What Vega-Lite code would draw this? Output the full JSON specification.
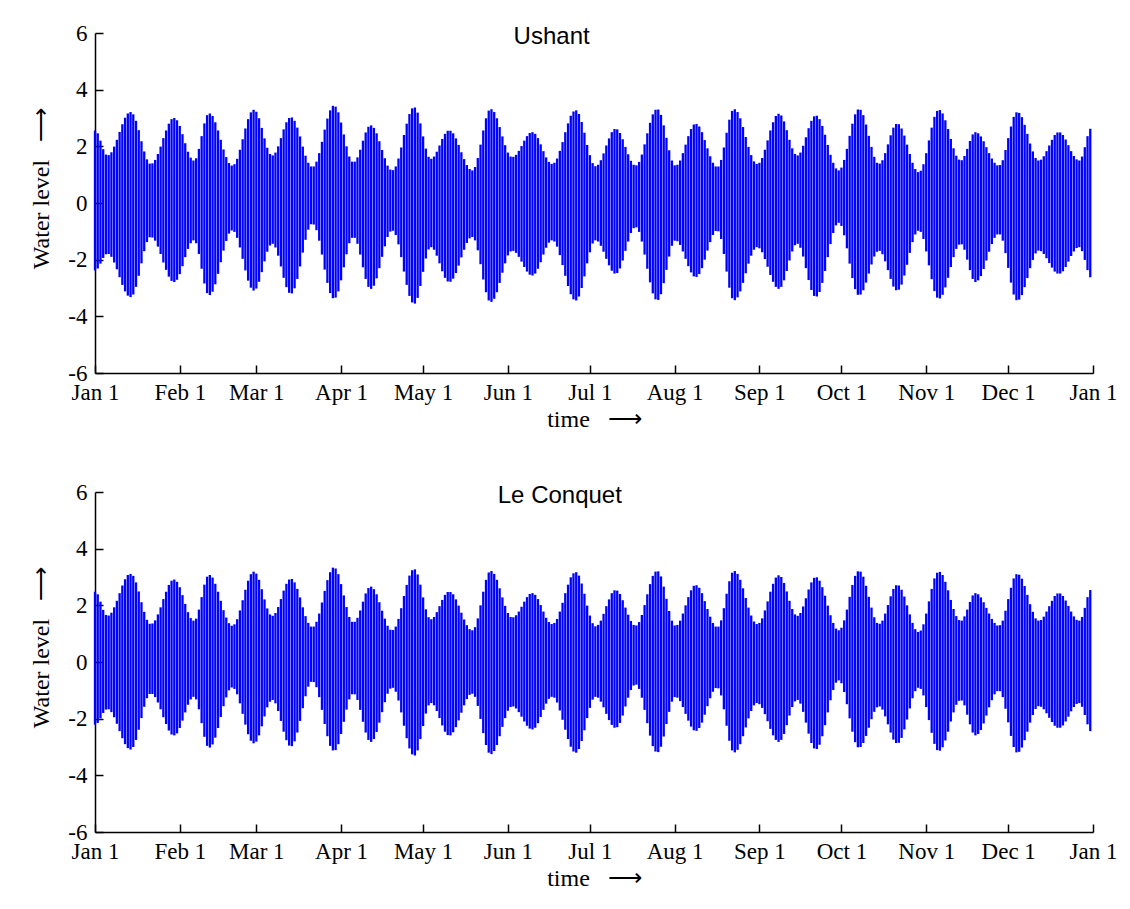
{
"$schema":"https://vega.github.io/schema/vega-lite/v6.json",
"padding":{"left":29,"top":22,"right":0,"bottom":0},
"background":"white",
"spacing":119,
"bounds":"flush",
"config":{
"view":{"stroke":null},
"axis":{"domainColor":"black","domainWidth":1.5,"tickColor":"black","tickWidth":1.5,"grid":false,"labelFont":"Liberation Serif","labelFontSize":23,"labelColor":"black","titleFont":"Liberation Serif","titleFontSize":24,"titleFontWeight":"normal","titleColor":"black","labelFlush":false,"labelOverlap":false,"labelBound":false}
},
"datasets":{"tide":[
{"d":0,"uh":2.56,"ul":-2.38,"ch":2.48,"cl":-2.21},
{"d":1,"uh":2.46,"ul":-2.31,"ch":2.39,"cl":-2.15},
{"d":2,"uh":2.20,"ul":-2.14,"ch":2.13,"cl":-1.99},
{"d":3,"uh":1.90,"ul":-1.94,"ch":1.84,"cl":-1.80},
{"d":4,"uh":1.71,"ul":-1.81,"ch":1.66,"cl":-1.68},
{"d":5,"uh":1.69,"ul":-1.80,"ch":1.64,"cl":-1.67},
{"d":6,"uh":1.79,"ul":-1.90,"ch":1.74,"cl":-1.77},
{"d":7,"uh":1.99,"ul":-2.10,"ch":1.93,"cl":-1.95},
{"d":8,"uh":2.23,"ul":-2.34,"ch":2.16,"cl":-2.18},
{"d":9,"uh":2.51,"ul":-2.62,"ch":2.43,"cl":-2.44},
{"d":10,"uh":2.78,"ul":-2.89,"ch":2.70,"cl":-2.69},
{"d":11,"uh":3.01,"ul":-3.12,"ch":2.92,"cl":-2.90},
{"d":12,"uh":3.16,"ul":-3.27,"ch":3.07,"cl":-3.04},
{"d":13,"uh":3.21,"ul":-3.32,"ch":3.11,"cl":-3.09},
{"d":14,"uh":3.13,"ul":-3.23,"ch":3.04,"cl":-3.00},
{"d":15,"uh":2.90,"ul":-2.96,"ch":2.81,"cl":-2.75},
{"d":16,"uh":2.57,"ul":-2.57,"ch":2.49,"cl":-2.39},
{"d":17,"uh":2.18,"ul":-2.13,"ch":2.11,"cl":-1.98},
{"d":18,"uh":1.82,"ul":-1.70,"ch":1.77,"cl":-1.58},
{"d":19,"uh":1.54,"ul":-1.38,"ch":1.49,"cl":-1.28},
{"d":20,"uh":1.39,"ul":-1.21,"ch":1.35,"cl":-1.13},
{"d":21,"uh":1.40,"ul":-1.22,"ch":1.36,"cl":-1.13},
{"d":22,"uh":1.52,"ul":-1.33,"ch":1.47,"cl":-1.24},
{"d":23,"uh":1.73,"ul":-1.54,"ch":1.68,"cl":-1.43},
{"d":24,"uh":1.99,"ul":-1.80,"ch":1.93,"cl":-1.67},
{"d":25,"uh":2.29,"ul":-2.10,"ch":2.22,"cl":-1.95},
{"d":26,"uh":2.56,"ul":-2.36,"ch":2.48,"cl":-2.19},
{"d":27,"uh":2.80,"ul":-2.60,"ch":2.72,"cl":-2.42},
{"d":28,"uh":2.96,"ul":-2.75,"ch":2.87,"cl":-2.56},
{"d":29,"uh":3.00,"ul":-2.79,"ch":2.91,"cl":-2.59},
{"d":30,"uh":2.92,"ul":-2.71,"ch":2.83,"cl":-2.52},
{"d":31,"uh":2.72,"ul":-2.51,"ch":2.64,"cl":-2.33},
{"d":32,"uh":2.43,"ul":-2.23,"ch":2.36,"cl":-2.07},
{"d":33,"uh":2.11,"ul":-1.91,"ch":2.05,"cl":-1.78},
{"d":34,"uh":1.81,"ul":-1.62,"ch":1.76,"cl":-1.51},
{"d":35,"uh":1.60,"ul":-1.42,"ch":1.55,"cl":-1.32},
{"d":36,"uh":1.50,"ul":-1.32,"ch":1.46,"cl":-1.23},
{"d":37,"uh":1.58,"ul":-1.42,"ch":1.53,"cl":-1.32},
{"d":38,"uh":1.91,"ul":-1.80,"ch":1.85,"cl":-1.67},
{"d":39,"uh":2.36,"ul":-2.32,"ch":2.29,"cl":-2.16},
{"d":40,"uh":2.81,"ul":-2.84,"ch":2.73,"cl":-2.64},
{"d":41,"uh":3.10,"ul":-3.18,"ch":3.01,"cl":-2.96},
{"d":42,"uh":3.16,"ul":-3.25,"ch":3.07,"cl":-3.02},
{"d":43,"uh":3.07,"ul":-3.13,"ch":2.98,"cl":-2.91},
{"d":44,"uh":2.85,"ul":-2.87,"ch":2.76,"cl":-2.67},
{"d":45,"uh":2.56,"ul":-2.50,"ch":2.48,"cl":-2.33},
{"d":46,"uh":2.23,"ul":-2.09,"ch":2.16,"cl":-1.94},
{"d":47,"uh":1.89,"ul":-1.68,"ch":1.83,"cl":-1.56},
{"d":48,"uh":1.62,"ul":-1.34,"ch":1.57,"cl":-1.25},
{"d":49,"uh":1.41,"ul":-1.08,"ch":1.37,"cl":-1.00},
{"d":50,"uh":1.32,"ul":-0.97,"ch":1.28,"cl":-0.90},
{"d":51,"uh":1.37,"ul":-1.02,"ch":1.33,"cl":-0.95},
{"d":52,"uh":1.56,"ul":-1.23,"ch":1.51,"cl":-1.14},
{"d":53,"uh":1.88,"ul":-1.57,"ch":1.82,"cl":-1.46},
{"d":54,"uh":2.25,"ul":-1.97,"ch":2.18,"cl":-1.83},
{"d":55,"uh":2.63,"ul":-2.38,"ch":2.55,"cl":-2.21},
{"d":56,"uh":2.96,"ul":-2.74,"ch":2.87,"cl":-2.55},
{"d":57,"uh":3.20,"ul":-2.99,"ch":3.10,"cl":-2.78},
{"d":58,"uh":3.29,"ul":-3.09,"ch":3.19,"cl":-2.87},
{"d":59,"uh":3.22,"ul":-3.02,"ch":3.12,"cl":-2.81},
{"d":60,"uh":2.99,"ul":-2.78,"ch":2.90,"cl":-2.59},
{"d":61,"uh":2.65,"ul":-2.44,"ch":2.57,"cl":-2.27},
{"d":62,"uh":2.28,"ul":-2.06,"ch":2.21,"cl":-1.92},
{"d":63,"uh":1.95,"ul":-1.72,"ch":1.89,"cl":-1.60},
{"d":64,"uh":1.73,"ul":-1.50,"ch":1.68,"cl":-1.40},
{"d":65,"uh":1.68,"ul":-1.44,"ch":1.63,"cl":-1.34},
{"d":66,"uh":1.78,"ul":-1.57,"ch":1.73,"cl":-1.46},
{"d":67,"uh":2.00,"ul":-1.86,"ch":1.94,"cl":-1.73},
{"d":68,"uh":2.29,"ul":-2.24,"ch":2.22,"cl":-2.08},
{"d":69,"uh":2.60,"ul":-2.64,"ch":2.52,"cl":-2.46},
{"d":70,"uh":2.85,"ul":-2.97,"ch":2.76,"cl":-2.76},
{"d":71,"uh":3.00,"ul":-3.17,"ch":2.91,"cl":-2.95},
{"d":72,"uh":3.02,"ul":-3.19,"ch":2.93,"cl":-2.97},
{"d":73,"uh":2.90,"ul":-3.01,"ch":2.81,"cl":-2.80},
{"d":74,"uh":2.66,"ul":-2.68,"ch":2.58,"cl":-2.49},
{"d":75,"uh":2.35,"ul":-2.24,"ch":2.28,"cl":-2.08},
{"d":76,"uh":1.99,"ul":-1.75,"ch":1.93,"cl":-1.63},
{"d":77,"uh":1.67,"ul":-1.30,"ch":1.62,"cl":-1.21},
{"d":78,"uh":1.42,"ul":-0.94,"ch":1.38,"cl":-0.87},
{"d":79,"uh":1.29,"ul":-0.75,"ch":1.25,"cl":-0.70},
{"d":80,"uh":1.29,"ul":-0.76,"ch":1.25,"cl":-0.71},
{"d":81,"uh":1.46,"ul":-0.96,"ch":1.42,"cl":-0.89},
{"d":82,"uh":1.76,"ul":-1.33,"ch":1.71,"cl":-1.24},
{"d":83,"uh":2.16,"ul":-1.82,"ch":2.10,"cl":-1.69},
{"d":84,"uh":2.59,"ul":-2.35,"ch":2.51,"cl":-2.19},
{"d":85,"uh":2.98,"ul":-2.82,"ch":2.89,"cl":-2.62},
{"d":86,"uh":3.27,"ul":-3.18,"ch":3.17,"cl":-2.96},
{"d":87,"uh":3.43,"ul":-3.36,"ch":3.33,"cl":-3.12},
{"d":88,"uh":3.40,"ul":-3.34,"ch":3.30,"cl":-3.11},
{"d":89,"uh":3.20,"ul":-3.12,"ch":3.10,"cl":-2.90},
{"d":90,"uh":2.84,"ul":-2.73,"ch":2.75,"cl":-2.54},
{"d":91,"uh":2.42,"ul":-2.27,"ch":2.35,"cl":-2.11},
{"d":92,"uh":2.00,"ul":-1.81,"ch":1.94,"cl":-1.68},
{"d":93,"uh":1.64,"ul":-1.42,"ch":1.59,"cl":-1.32},
{"d":94,"uh":1.46,"ul":-1.23,"ch":1.42,"cl":-1.14},
{"d":95,"uh":1.46,"ul":-1.23,"ch":1.42,"cl":-1.14},
{"d":96,"uh":1.61,"ul":-1.44,"ch":1.56,"cl":-1.34},
{"d":97,"uh":1.88,"ul":-1.82,"ch":1.82,"cl":-1.69},
{"d":98,"uh":2.20,"ul":-2.27,"ch":2.13,"cl":-2.11},
{"d":99,"uh":2.49,"ul":-2.68,"ch":2.42,"cl":-2.49},
{"d":100,"uh":2.69,"ul":-2.96,"ch":2.61,"cl":-2.75},
{"d":101,"uh":2.74,"ul":-3.03,"ch":2.66,"cl":-2.82},
{"d":102,"uh":2.65,"ul":-2.92,"ch":2.57,"cl":-2.72},
{"d":103,"uh":2.46,"ul":-2.66,"ch":2.39,"cl":-2.47},
{"d":104,"uh":2.18,"ul":-2.30,"ch":2.11,"cl":-2.14},
{"d":105,"uh":1.87,"ul":-1.90,"ch":1.81,"cl":-1.77},
{"d":106,"uh":1.58,"ul":-1.53,"ch":1.53,"cl":-1.42},
{"d":107,"uh":1.32,"ul":-1.20,"ch":1.28,"cl":-1.12},
{"d":108,"uh":1.18,"ul":-1.01,"ch":1.14,"cl":-0.94},
{"d":109,"uh":1.16,"ul":-0.98,"ch":1.13,"cl":-0.91},
{"d":110,"uh":1.29,"ul":-1.13,"ch":1.25,"cl":-1.05},
{"d":111,"uh":1.57,"ul":-1.46,"ch":1.52,"cl":-1.36},
{"d":112,"uh":1.96,"ul":-1.91,"ch":1.90,"cl":-1.78},
{"d":113,"uh":2.40,"ul":-2.42,"ch":2.33,"cl":-2.25},
{"d":114,"uh":2.80,"ul":-2.89,"ch":2.72,"cl":-2.69},
{"d":115,"uh":3.14,"ul":-3.28,"ch":3.05,"cl":-3.05},
{"d":116,"uh":3.34,"ul":-3.51,"ch":3.24,"cl":-3.26},
{"d":117,"uh":3.37,"ul":-3.55,"ch":3.27,"cl":-3.30},
{"d":118,"uh":3.19,"ul":-3.35,"ch":3.09,"cl":-3.12},
{"d":119,"uh":2.81,"ul":-2.93,"ch":2.73,"cl":-2.72},
{"d":120,"uh":2.35,"ul":-2.43,"ch":2.28,"cl":-2.26},
{"d":121,"uh":1.92,"ul":-1.96,"ch":1.86,"cl":-1.82},
{"d":122,"uh":1.63,"ul":-1.64,"ch":1.58,"cl":-1.53},
{"d":123,"uh":1.56,"ul":-1.56,"ch":1.51,"cl":-1.45},
{"d":124,"uh":1.64,"ul":-1.65,"ch":1.59,"cl":-1.53},
{"d":125,"uh":1.81,"ul":-1.86,"ch":1.76,"cl":-1.73},
{"d":126,"uh":2.03,"ul":-2.13,"ch":1.97,"cl":-1.98},
{"d":127,"uh":2.26,"ul":-2.41,"ch":2.19,"cl":-2.24},
{"d":128,"uh":2.44,"ul":-2.64,"ch":2.37,"cl":-2.46},
{"d":129,"uh":2.55,"ul":-2.77,"ch":2.47,"cl":-2.58},
{"d":130,"uh":2.55,"ul":-2.78,"ch":2.47,"cl":-2.59},
{"d":131,"uh":2.46,"ul":-2.67,"ch":2.39,"cl":-2.48},
{"d":132,"uh":2.28,"ul":-2.47,"ch":2.21,"cl":-2.30},
{"d":133,"uh":2.05,"ul":-2.21,"ch":1.99,"cl":-2.06},
{"d":134,"uh":1.79,"ul":-1.92,"ch":1.74,"cl":-1.79},
{"d":135,"uh":1.55,"ul":-1.65,"ch":1.50,"cl":-1.53},
{"d":136,"uh":1.34,"ul":-1.41,"ch":1.30,"cl":-1.31},
{"d":137,"uh":1.20,"ul":-1.25,"ch":1.16,"cl":-1.16},
{"d":138,"uh":1.15,"ul":-1.20,"ch":1.12,"cl":-1.12},
{"d":139,"uh":1.27,"ul":-1.32,"ch":1.23,"cl":-1.23},
{"d":140,"uh":1.59,"ul":-1.67,"ch":1.54,"cl":-1.55},
{"d":141,"uh":2.06,"ul":-2.16,"ch":2.00,"cl":-2.01},
{"d":142,"uh":2.56,"ul":-2.70,"ch":2.48,"cl":-2.51},
{"d":143,"uh":2.99,"ul":-3.15,"ch":2.90,"cl":-2.93},
{"d":144,"uh":3.26,"ul":-3.44,"ch":3.16,"cl":-3.20},
{"d":145,"uh":3.31,"ul":-3.49,"ch":3.21,"cl":-3.25},
{"d":146,"uh":3.21,"ul":-3.38,"ch":3.11,"cl":-3.14},
{"d":147,"uh":2.99,"ul":-3.15,"ch":2.90,"cl":-2.93},
{"d":148,"uh":2.68,"ul":-2.82,"ch":2.60,"cl":-2.62},
{"d":149,"uh":2.35,"ul":-2.46,"ch":2.28,"cl":-2.29},
{"d":150,"uh":2.04,"ul":-2.13,"ch":1.98,"cl":-1.98},
{"d":151,"uh":1.78,"ul":-1.85,"ch":1.73,"cl":-1.72},
{"d":152,"uh":1.64,"ul":-1.71,"ch":1.59,"cl":-1.59},
{"d":153,"uh":1.63,"ul":-1.69,"ch":1.58,"cl":-1.57},
{"d":154,"uh":1.70,"ul":-1.76,"ch":1.65,"cl":-1.64},
{"d":155,"uh":1.84,"ul":-1.90,"ch":1.78,"cl":-1.77},
{"d":156,"uh":2.01,"ul":-2.07,"ch":1.95,"cl":-1.93},
{"d":157,"uh":2.20,"ul":-2.26,"ch":2.13,"cl":-2.10},
{"d":158,"uh":2.36,"ul":-2.42,"ch":2.29,"cl":-2.25},
{"d":159,"uh":2.47,"ul":-2.53,"ch":2.40,"cl":-2.35},
{"d":160,"uh":2.50,"ul":-2.56,"ch":2.43,"cl":-2.38},
{"d":161,"uh":2.44,"ul":-2.49,"ch":2.37,"cl":-2.32},
{"d":162,"uh":2.29,"ul":-2.32,"ch":2.22,"cl":-2.16},
{"d":163,"uh":2.07,"ul":-2.09,"ch":2.01,"cl":-1.94},
{"d":164,"uh":1.83,"ul":-1.82,"ch":1.78,"cl":-1.69},
{"d":165,"uh":1.61,"ul":-1.58,"ch":1.56,"cl":-1.47},
{"d":166,"uh":1.45,"ul":-1.40,"ch":1.41,"cl":-1.30},
{"d":167,"uh":1.38,"ul":-1.32,"ch":1.34,"cl":-1.23},
{"d":168,"uh":1.42,"ul":-1.36,"ch":1.38,"cl":-1.26},
{"d":169,"uh":1.57,"ul":-1.54,"ch":1.52,"cl":-1.43},
{"d":170,"uh":1.84,"ul":-1.84,"ch":1.78,"cl":-1.71},
{"d":171,"uh":2.15,"ul":-2.19,"ch":2.09,"cl":-2.04},
{"d":172,"uh":2.50,"ul":-2.57,"ch":2.43,"cl":-2.39},
{"d":173,"uh":2.81,"ul":-2.93,"ch":2.73,"cl":-2.72},
{"d":174,"uh":3.08,"ul":-3.22,"ch":2.99,"cl":-2.99},
{"d":175,"uh":3.23,"ul":-3.40,"ch":3.13,"cl":-3.16},
{"d":176,"uh":3.27,"ul":-3.44,"ch":3.17,"cl":-3.20},
{"d":177,"uh":3.14,"ul":-3.30,"ch":3.05,"cl":-3.07},
{"d":178,"uh":2.86,"ul":-3.00,"ch":2.77,"cl":-2.79},
{"d":179,"uh":2.48,"ul":-2.59,"ch":2.41,"cl":-2.41},
{"d":180,"uh":2.05,"ul":-2.13,"ch":1.99,"cl":-1.98},
{"d":181,"uh":1.69,"ul":-1.74,"ch":1.64,"cl":-1.62},
{"d":182,"uh":1.41,"ul":-1.43,"ch":1.37,"cl":-1.33},
{"d":183,"uh":1.30,"ul":-1.32,"ch":1.26,"cl":-1.23},
{"d":184,"uh":1.35,"ul":-1.36,"ch":1.31,"cl":-1.26},
{"d":185,"uh":1.51,"ul":-1.51,"ch":1.46,"cl":-1.40},
{"d":186,"uh":1.75,"ul":-1.72,"ch":1.70,"cl":-1.60},
{"d":187,"uh":2.03,"ul":-1.97,"ch":1.97,"cl":-1.83},
{"d":188,"uh":2.28,"ul":-2.20,"ch":2.21,"cl":-2.05},
{"d":189,"uh":2.50,"ul":-2.39,"ch":2.43,"cl":-2.22},
{"d":190,"uh":2.61,"ul":-2.49,"ch":2.53,"cl":-2.32},
{"d":191,"uh":2.60,"ul":-2.47,"ch":2.52,"cl":-2.30},
{"d":192,"uh":2.47,"ul":-2.31,"ch":2.40,"cl":-2.15},
{"d":193,"uh":2.25,"ul":-2.03,"ch":2.18,"cl":-1.89},
{"d":194,"uh":1.98,"ul":-1.69,"ch":1.92,"cl":-1.57},
{"d":195,"uh":1.72,"ul":-1.36,"ch":1.67,"cl":-1.26},
{"d":196,"uh":1.49,"ul":-1.06,"ch":1.45,"cl":-0.99},
{"d":197,"uh":1.35,"ul":-0.89,"ch":1.31,"cl":-0.83},
{"d":198,"uh":1.33,"ul":-0.86,"ch":1.29,"cl":-0.80},
{"d":199,"uh":1.45,"ul":-1.02,"ch":1.41,"cl":-0.95},
{"d":200,"uh":1.71,"ul":-1.36,"ch":1.66,"cl":-1.26},
{"d":201,"uh":2.07,"ul":-1.82,"ch":2.01,"cl":-1.69},
{"d":202,"uh":2.46,"ul":-2.32,"ch":2.39,"cl":-2.16},
{"d":203,"uh":2.83,"ul":-2.80,"ch":2.75,"cl":-2.60},
{"d":204,"uh":3.13,"ul":-3.19,"ch":3.04,"cl":-2.97},
{"d":205,"uh":3.29,"ul":-3.40,"ch":3.19,"cl":-3.16},
{"d":206,"uh":3.30,"ul":-3.42,"ch":3.20,"cl":-3.18},
{"d":207,"uh":3.11,"ul":-3.22,"ch":3.02,"cl":-2.99},
{"d":208,"uh":2.74,"ul":-2.83,"ch":2.66,"cl":-2.63},
{"d":209,"uh":2.30,"ul":-2.36,"ch":2.23,"cl":-2.19},
{"d":210,"uh":1.86,"ul":-1.89,"ch":1.80,"cl":-1.76},
{"d":211,"uh":1.50,"ul":-1.51,"ch":1.46,"cl":-1.40},
{"d":212,"uh":1.33,"ul":-1.33,"ch":1.29,"cl":-1.24},
{"d":213,"uh":1.35,"ul":-1.35,"ch":1.31,"cl":-1.26},
{"d":214,"uh":1.50,"ul":-1.48,"ch":1.46,"cl":-1.38},
{"d":215,"uh":1.76,"ul":-1.71,"ch":1.71,"cl":-1.59},
{"d":216,"uh":2.06,"ul":-1.97,"ch":2.00,"cl":-1.83},
{"d":217,"uh":2.36,"ul":-2.23,"ch":2.29,"cl":-2.07},
{"d":218,"uh":2.61,"ul":-2.45,"ch":2.53,"cl":-2.28},
{"d":219,"uh":2.77,"ul":-2.59,"ch":2.69,"cl":-2.41},
{"d":220,"uh":2.79,"ul":-2.61,"ch":2.71,"cl":-2.43},
{"d":221,"uh":2.70,"ul":-2.51,"ch":2.62,"cl":-2.33},
{"d":222,"uh":2.50,"ul":-2.30,"ch":2.43,"cl":-2.14},
{"d":223,"uh":2.22,"ul":-2.00,"ch":2.15,"cl":-1.86},
{"d":224,"uh":1.93,"ul":-1.68,"ch":1.87,"cl":-1.56},
{"d":225,"uh":1.65,"ul":-1.38,"ch":1.60,"cl":-1.28},
{"d":226,"uh":1.42,"ul":-1.13,"ch":1.38,"cl":-1.05},
{"d":227,"uh":1.29,"ul":-0.99,"ch":1.25,"cl":-0.92},
{"d":228,"uh":1.29,"ul":-1.00,"ch":1.25,"cl":-0.93},
{"d":229,"uh":1.52,"ul":-1.27,"ch":1.47,"cl":-1.18},
{"d":230,"uh":1.96,"ul":-1.80,"ch":1.90,"cl":-1.67},
{"d":231,"uh":2.48,"ul":-2.42,"ch":2.41,"cl":-2.25},
{"d":232,"uh":2.94,"ul":-2.99,"ch":2.85,"cl":-2.78},
{"d":233,"uh":3.25,"ul":-3.36,"ch":3.15,"cl":-3.12},
{"d":234,"uh":3.31,"ul":-3.43,"ch":3.21,"cl":-3.19},
{"d":235,"uh":3.21,"ul":-3.33,"ch":3.11,"cl":-3.10},
{"d":236,"uh":2.99,"ul":-3.12,"ch":2.90,"cl":-2.90},
{"d":237,"uh":2.68,"ul":-2.82,"ch":2.60,"cl":-2.62},
{"d":238,"uh":2.33,"ul":-2.48,"ch":2.26,"cl":-2.31},
{"d":239,"uh":1.98,"ul":-2.14,"ch":1.92,"cl":-1.99},
{"d":240,"uh":1.69,"ul":-1.86,"ch":1.64,"cl":-1.73},
{"d":241,"uh":1.47,"ul":-1.65,"ch":1.43,"cl":-1.53},
{"d":242,"uh":1.38,"ul":-1.56,"ch":1.34,"cl":-1.45},
{"d":243,"uh":1.42,"ul":-1.60,"ch":1.38,"cl":-1.49},
{"d":244,"uh":1.59,"ul":-1.74,"ch":1.54,"cl":-1.62},
{"d":245,"uh":1.88,"ul":-1.98,"ch":1.82,"cl":-1.84},
{"d":246,"uh":2.21,"ul":-2.25,"ch":2.14,"cl":-2.09},
{"d":247,"uh":2.56,"ul":-2.54,"ch":2.48,"cl":-2.36},
{"d":248,"uh":2.85,"ul":-2.78,"ch":2.76,"cl":-2.59},
{"d":249,"uh":3.07,"ul":-2.96,"ch":2.98,"cl":-2.75},
{"d":250,"uh":3.15,"ul":-3.03,"ch":3.06,"cl":-2.82},
{"d":251,"uh":3.09,"ul":-2.96,"ch":3.00,"cl":-2.75},
{"d":252,"uh":2.88,"ul":-2.73,"ch":2.79,"cl":-2.54},
{"d":253,"uh":2.57,"ul":-2.40,"ch":2.49,"cl":-2.23},
{"d":254,"uh":2.23,"ul":-2.03,"ch":2.16,"cl":-1.89},
{"d":255,"uh":1.93,"ul":-1.71,"ch":1.87,"cl":-1.59},
{"d":256,"uh":1.73,"ul":-1.49,"ch":1.68,"cl":-1.39},
{"d":257,"uh":1.68,"ul":-1.44,"ch":1.63,"cl":-1.34},
{"d":258,"uh":1.78,"ul":-1.58,"ch":1.73,"cl":-1.47},
{"d":259,"uh":2.02,"ul":-1.89,"ch":1.96,"cl":-1.76},
{"d":260,"uh":2.32,"ul":-2.30,"ch":2.25,"cl":-2.14},
{"d":261,"uh":2.64,"ul":-2.72,"ch":2.56,"cl":-2.53},
{"d":262,"uh":2.90,"ul":-3.07,"ch":2.81,"cl":-2.86},
{"d":263,"uh":3.06,"ul":-3.28,"ch":2.97,"cl":-3.05},
{"d":264,"uh":3.08,"ul":-3.30,"ch":2.99,"cl":-3.07},
{"d":265,"uh":2.96,"ul":-3.14,"ch":2.87,"cl":-2.92},
{"d":266,"uh":2.72,"ul":-2.82,"ch":2.64,"cl":-2.62},
{"d":267,"uh":2.41,"ul":-2.40,"ch":2.34,"cl":-2.23},
{"d":268,"uh":2.05,"ul":-1.91,"ch":1.99,"cl":-1.78},
{"d":269,"uh":1.70,"ul":-1.45,"ch":1.65,"cl":-1.35},
{"d":270,"uh":1.42,"ul":-1.06,"ch":1.38,"cl":-0.99},
{"d":271,"uh":1.22,"ul":-0.79,"ch":1.18,"cl":-0.73},
{"d":272,"uh":1.15,"ul":-0.70,"ch":1.12,"cl":-0.65},
{"d":273,"uh":1.25,"ul":-0.81,"ch":1.21,"cl":-0.75},
{"d":274,"uh":1.52,"ul":-1.14,"ch":1.47,"cl":-1.06},
{"d":275,"uh":1.91,"ul":-1.60,"ch":1.85,"cl":-1.49},
{"d":276,"uh":2.37,"ul":-2.14,"ch":2.30,"cl":-1.99},
{"d":277,"uh":2.80,"ul":-2.65,"ch":2.72,"cl":-2.46},
{"d":278,"uh":3.13,"ul":-3.04,"ch":3.04,"cl":-2.83},
{"d":279,"uh":3.30,"ul":-3.24,"ch":3.20,"cl":-3.01},
{"d":280,"uh":3.29,"ul":-3.23,"ch":3.19,"cl":-3.00},
{"d":281,"uh":3.10,"ul":-3.08,"ch":3.01,"cl":-2.86},
{"d":282,"uh":2.77,"ul":-2.81,"ch":2.69,"cl":-2.61},
{"d":283,"uh":2.37,"ul":-2.49,"ch":2.30,"cl":-2.32},
{"d":284,"uh":1.98,"ul":-2.17,"ch":1.92,"cl":-2.02},
{"d":285,"uh":1.63,"ul":-1.89,"ch":1.58,"cl":-1.76},
{"d":286,"uh":1.42,"ul":-1.72,"ch":1.38,"cl":-1.60},
{"d":287,"uh":1.39,"ul":-1.69,"ch":1.35,"cl":-1.57},
{"d":288,"uh":1.51,"ul":-1.81,"ch":1.46,"cl":-1.68},
{"d":289,"uh":1.76,"ul":-2.06,"ch":1.71,"cl":-1.92},
{"d":290,"uh":2.07,"ul":-2.37,"ch":2.01,"cl":-2.20},
{"d":291,"uh":2.39,"ul":-2.68,"ch":2.32,"cl":-2.49},
{"d":292,"uh":2.66,"ul":-2.95,"ch":2.58,"cl":-2.74},
{"d":293,"uh":2.79,"ul":-3.08,"ch":2.71,"cl":-2.86},
{"d":294,"uh":2.78,"ul":-3.06,"ch":2.70,"cl":-2.85},
{"d":295,"uh":2.63,"ul":-2.88,"ch":2.55,"cl":-2.68},
{"d":296,"uh":2.38,"ul":-2.56,"ch":2.31,"cl":-2.38},
{"d":297,"uh":2.06,"ul":-2.18,"ch":2.00,"cl":-2.03},
{"d":298,"uh":1.73,"ul":-1.76,"ch":1.68,"cl":-1.64},
{"d":299,"uh":1.42,"ul":-1.38,"ch":1.38,"cl":-1.28},
{"d":300,"uh":1.20,"ul":-1.11,"ch":1.16,"cl":-1.03},
{"d":301,"uh":1.09,"ul":-0.98,"ch":1.06,"cl":-0.91},
{"d":302,"uh":1.14,"ul":-1.02,"ch":1.11,"cl":-0.95},
{"d":303,"uh":1.37,"ul":-1.27,"ch":1.33,"cl":-1.18},
{"d":304,"uh":1.76,"ul":-1.71,"ch":1.71,"cl":-1.59},
{"d":305,"uh":2.21,"ul":-2.20,"ch":2.14,"cl":-2.05},
{"d":306,"uh":2.66,"ul":-2.69,"ch":2.58,"cl":-2.50},
{"d":307,"uh":3.04,"ul":-3.11,"ch":2.95,"cl":-2.89},
{"d":308,"uh":3.25,"ul":-3.34,"ch":3.15,"cl":-3.11},
{"d":309,"uh":3.28,"ul":-3.37,"ch":3.18,"cl":-3.13},
{"d":310,"uh":3.16,"ul":-3.24,"ch":3.07,"cl":-3.01},
{"d":311,"uh":2.92,"ul":-2.98,"ch":2.83,"cl":-2.77},
{"d":312,"uh":2.61,"ul":-2.64,"ch":2.53,"cl":-2.46},
{"d":313,"uh":2.26,"ul":-2.26,"ch":2.19,"cl":-2.10},
{"d":314,"uh":1.93,"ul":-1.91,"ch":1.87,"cl":-1.78},
{"d":315,"uh":1.67,"ul":-1.62,"ch":1.62,"cl":-1.51},
{"d":316,"uh":1.53,"ul":-1.47,"ch":1.48,"cl":-1.37},
{"d":317,"uh":1.51,"ul":-1.46,"ch":1.46,"cl":-1.36},
{"d":318,"uh":1.66,"ul":-1.65,"ch":1.61,"cl":-1.53},
{"d":319,"uh":1.91,"ul":-2.00,"ch":1.85,"cl":-1.86},
{"d":320,"uh":2.19,"ul":-2.37,"ch":2.12,"cl":-2.20},
{"d":321,"uh":2.42,"ul":-2.68,"ch":2.35,"cl":-2.49},
{"d":322,"uh":2.50,"ul":-2.79,"ch":2.43,"cl":-2.59},
{"d":323,"uh":2.46,"ul":-2.73,"ch":2.39,"cl":-2.54},
{"d":324,"uh":2.35,"ul":-2.58,"ch":2.28,"cl":-2.40},
{"d":325,"uh":2.18,"ul":-2.33,"ch":2.11,"cl":-2.17},
{"d":326,"uh":1.97,"ul":-2.03,"ch":1.91,"cl":-1.89},
{"d":327,"uh":1.76,"ul":-1.72,"ch":1.71,"cl":-1.60},
{"d":328,"uh":1.57,"ul":-1.45,"ch":1.52,"cl":-1.35},
{"d":329,"uh":1.42,"ul":-1.23,"ch":1.38,"cl":-1.14},
{"d":330,"uh":1.33,"ul":-1.11,"ch":1.29,"cl":-1.03},
{"d":331,"uh":1.34,"ul":-1.11,"ch":1.30,"cl":-1.03},
{"d":332,"uh":1.51,"ul":-1.33,"ch":1.46,"cl":-1.24},
{"d":333,"uh":1.87,"ul":-1.77,"ch":1.81,"cl":-1.65},
{"d":334,"uh":2.29,"ul":-2.29,"ch":2.22,"cl":-2.13},
{"d":335,"uh":2.70,"ul":-2.81,"ch":2.62,"cl":-2.61},
{"d":336,"uh":3.04,"ul":-3.23,"ch":2.95,"cl":-3.00},
{"d":337,"uh":3.20,"ul":-3.43,"ch":3.10,"cl":-3.19},
{"d":338,"uh":3.18,"ul":-3.41,"ch":3.08,"cl":-3.17},
{"d":339,"uh":3.03,"ul":-3.25,"ch":2.94,"cl":-3.02},
{"d":340,"uh":2.76,"ul":-2.97,"ch":2.68,"cl":-2.76},
{"d":341,"uh":2.44,"ul":-2.65,"ch":2.37,"cl":-2.46},
{"d":342,"uh":2.10,"ul":-2.30,"ch":2.04,"cl":-2.14},
{"d":343,"uh":1.82,"ul":-2.01,"ch":1.77,"cl":-1.87},
{"d":344,"uh":1.59,"ul":-1.78,"ch":1.54,"cl":-1.66},
{"d":345,"uh":1.50,"ul":-1.68,"ch":1.46,"cl":-1.56},
{"d":346,"uh":1.53,"ul":-1.70,"ch":1.48,"cl":-1.58},
{"d":347,"uh":1.65,"ul":-1.80,"ch":1.60,"cl":-1.67},
{"d":348,"uh":1.83,"ul":-1.95,"ch":1.78,"cl":-1.81},
{"d":349,"uh":2.03,"ul":-2.12,"ch":1.97,"cl":-1.97},
{"d":350,"uh":2.23,"ul":-2.28,"ch":2.16,"cl":-2.12},
{"d":351,"uh":2.40,"ul":-2.42,"ch":2.33,"cl":-2.25},
{"d":352,"uh":2.49,"ul":-2.49,"ch":2.42,"cl":-2.32},
{"d":353,"uh":2.49,"ul":-2.49,"ch":2.42,"cl":-2.32},
{"d":354,"uh":2.40,"ul":-2.41,"ch":2.33,"cl":-2.24},
{"d":355,"uh":2.24,"ul":-2.26,"ch":2.17,"cl":-2.10},
{"d":356,"uh":2.04,"ul":-2.07,"ch":1.98,"cl":-1.93},
{"d":357,"uh":1.83,"ul":-1.87,"ch":1.78,"cl":-1.74},
{"d":358,"uh":1.66,"ul":-1.71,"ch":1.61,"cl":-1.59},
{"d":359,"uh":1.54,"ul":-1.59,"ch":1.49,"cl":-1.48},
{"d":360,"uh":1.50,"ul":-1.56,"ch":1.46,"cl":-1.45},
{"d":361,"uh":1.64,"ul":-1.70,"ch":1.59,"cl":-1.58},
{"d":362,"uh":1.97,"ul":-2.01,"ch":1.91,"cl":-1.87},
{"d":363,"uh":2.36,"ul":-2.37,"ch":2.29,"cl":-2.20},
{"d":364,"uh":2.62,"ul":-2.62,"ch":2.54,"cl":-2.44}
],
"labels":[{"station":"Ushant","x":167,"y":5.61},{"station":"Le Conquet","x":170,"y":5.61}]
},
"vconcat":[
{
"width":998,"height":340,
"layer":[
{
"data":{"name":"tide"},
"mark":{"type":"rule","color":"#0000ff","strokeWidth":2.3},
"encoding":{
"x":{"field":"d","type":"quantitative","scale":{"domain":[0,365],"nice":false,"zero":false},
"axis":{"title":"time\u00a0\u00a0\u00a0⟶","titleY":53,"titleBaseline":"alphabetic","values":[0,31,59,90,120,151,181,212,243,273,304,334,365],"labelExpr":"['Jan 1','Feb 1','Mar 1','Apr 1','May 1','Jun 1','Jul 1','Aug 1','Sep 1','Oct 1','Nov 1','Dec 1','Jan 1'][indexof([0,31,59,90,120,151,181,212,243,273,304,334,365], datum.value)]","tickSize":-8,"labelPadding":16}},
"y":{"field":"uh","type":"quantitative","scale":{"domain":[-6,6],"nice":false},
"axis":{"title":"Water level\u00a0\u00a0\u00a0⟶","titleX":-54,"titleY":155,"titleBaseline":"middle","titleAngle":-90,"values":[-6,-4,-2,0,2,4,6],"labelExpr":"'' + datum.value","tickSize":-8,"labelPadding":16}},
"y2":{"field":"ul"}
}
},
{
"data":{"name":"labels"},
"transform":[{"filter":"datum.station == 'Ushant'"}],
"mark":{"type":"text","font":"Liberation Sans","fontSize":24,"baseline":"alphabetic","align":"center","color":"black"},
"encoding":{"x":{"field":"x","type":"quantitative"},"y":{"field":"y","type":"quantitative"},"text":{"field":"station"}}
}
]
},
{
"width":998,"height":340,
"layer":[
{
"data":{"name":"tide"},
"mark":{"type":"rule","color":"#0000ff","strokeWidth":2.3},
"encoding":{
"x":{"field":"d","type":"quantitative","scale":{"domain":[0,365],"nice":false,"zero":false},
"axis":{"title":"time\u00a0\u00a0\u00a0⟶","titleY":53,"titleBaseline":"alphabetic","values":[0,31,59,90,120,151,181,212,243,273,304,334,365],"labelExpr":"['Jan 1','Feb 1','Mar 1','Apr 1','May 1','Jun 1','Jul 1','Aug 1','Sep 1','Oct 1','Nov 1','Dec 1','Jan 1'][indexof([0,31,59,90,120,151,181,212,243,273,304,334,365], datum.value)]","tickSize":-8,"labelPadding":16}},
"y":{"field":"ch","type":"quantitative","scale":{"domain":[-6,6],"nice":false},
"axis":{"title":"Water level\u00a0\u00a0\u00a0⟶","titleX":-54,"titleY":155,"titleBaseline":"middle","titleAngle":-90,"values":[-6,-4,-2,0,2,4,6],"labelExpr":"'' + datum.value","tickSize":-8,"labelPadding":16}},
"y2":{"field":"cl"}
}
},
{
"data":{"name":"labels"},
"transform":[{"filter":"datum.station == 'Le Conquet'"}],
"mark":{"type":"text","font":"Liberation Sans","fontSize":24,"baseline":"alphabetic","align":"center","color":"black"},
"encoding":{"x":{"field":"x","type":"quantitative"},"y":{"field":"y","type":"quantitative"},"text":{"field":"station"}}
}
]
}
]
}
